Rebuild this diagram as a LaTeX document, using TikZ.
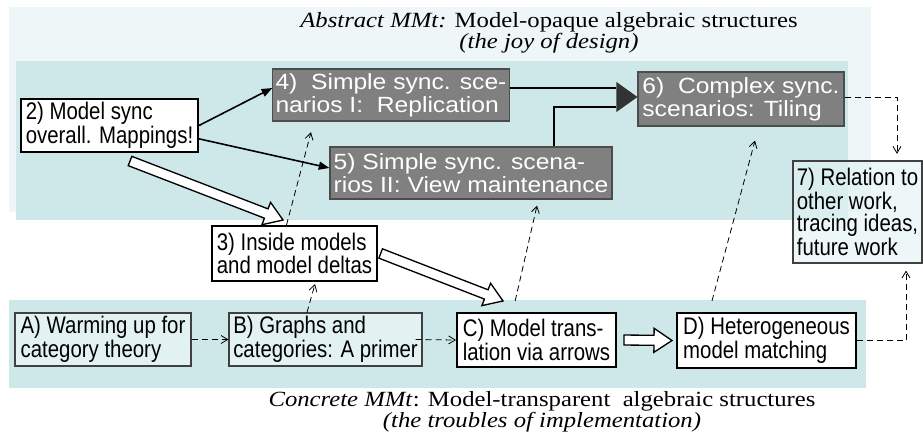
\documentclass[tikz,border=0pt]{standalone}
\usepackage{fontspec}
\setmainfont{Liberation Serif}[FakeStretch=1.14]
\newfontfamily\plainsans[FakeStretch=1.12]{Liberation Sans}
\newfontfamily\narrowsans[FakeStretch=0.85]{Liberation Sans}
\usepackage{tikz}
\usetikzlibrary{arrows.meta, positioning, calc}

\definecolor{paleteal}{RGB}{238,246,247}
\definecolor{softteal}{RGB}{206,232,234}
\definecolor{boxteal}{RGB}{226,242,243}
\definecolor{slate}{RGB}{128,128,128}
\definecolor{headgray}{RGB}{51,51,51}

% hollow block arrow between two points
\newcommand{\hollowlink}[2]{%
  \draw[hollow] let \p1=#1, \p2=#2,
    \n1={atan2(\y2-\y1,\x2-\x1)}, \n2={veclen(\x2-\x1,\y2-\y1)} in
    [shift={(\p1)}, rotate=\n1]
    (0pt,3.75pt) -- ({\n2*1pt-13.5pt},3.75pt) -- ({\n2*1pt-13.5pt},9pt)
    -- ({\n2*1pt},0pt) -- ({\n2*1pt-13.5pt},-9pt) -- ({\n2*1pt-13.5pt},-3.75pt)
    -- (0pt,-3.75pt) -- cycle;}

\begin{document}
\begin{tikzpicture}[
  x=0.75pt, y=-0.75pt,
  whitebox/.style={rectangle, draw=black, line width=1.5pt, fill=white,
                   align=left, inner xsep=2pt, inner ysep=1pt,
                   font=\narrowsans\fontsize{18}{16.5}\selectfont},
  palebox/.style={whitebox, draw=black!75, line width=0.8pt, fill=boxteal},
  greybox/.style={rectangle, draw=black!70, line width=0.8pt, fill=slate,
                  text=white, align=left, inner xsep=2pt, inner ysep=1pt,
                  font=\plainsans\fontsize{16.5}{17.25}\selectfont},
  link/.style={-{Triangle[length=8pt, width=6pt]}, line width=1.2pt},
  feed/.style={line width=1.5pt},
  hint/.style={-{Straight Barb[length=5pt, width=6pt]}, line width=0.6pt,
               dash pattern=on 4.5pt off 3pt},
  hollow/.style={draw=black, line width=1pt, fill=white, line join=miter},
  caption/.style={align=center, font=\fontsize{16.25}{15.5}\selectfont}
]
\useasboundingbox (0,0) rectangle (923,437);

% layers
\fill[paleteal] (9,7) rectangle (871,212);
\fill[softteal] (16,61) rectangle (848,220);
\fill[softteal] (9,300) rectangle (866,388);

\node[caption] (top) at (549,33)
  {\textit{Abstract MMt:} Model-opaque algebraic structures\\\textit{(the joy of design)}};
\node[caption] (bottom) at (542,412)
  {\textit{Concrete MMt}: Model-transparent\ \ algebraic structures\\\textit{(the troubles of implementation)}};

% abstract side
\node[whitebox, minimum width=132.75pt, minimum height=39.75pt] (n2) at (109.5,125.5)
  {2) Model sync\\overall. Mappings!};
\node[greybox, minimum width=174pt, minimum height=39pt] (n4) at (391,95)
  {4)\ \ Simple sync. sce-\\narios I:\ \ Replication};
\node[greybox, minimum width=211.5pt, minimum height=39pt] (n5) at (471,173)
  {5) Simple sync. scena-\\rios II: View maintenance};
\node[greybox, minimum width=154.5pt, minimum height=40.5pt] (n6) at (741,99)
  {6)\ \ Complex sync.\\scenarios: Tiling};
\node[palebox, minimum width=96.75pt, minimum height=76.5pt, fill opacity=0.6,
      text opacity=1] (n7) at (857.5,212)
  {7) Relation to\\other work,\\tracing ideas,\\future work};
\node[whitebox, minimum width=123.75pt, minimum height=41.25pt] (n3) at (294.5,253.5)
  {3) Inside models\\and model deltas};

% concrete side
\node[palebox, minimum width=132pt, minimum height=39.75pt] (nA) at (103,339.5)
  {A) Warming up for\\category theory};
\node[palebox, minimum width=144.75pt, minimum height=39.75pt] (nB) at (325.5,339.5)
  {B) Graphs and\\categories: A primer};
\node[whitebox, minimum width=119.25pt, minimum height=40.5pt] (nC) at (536.5,340)
  {C) Model trans-\\lation via arrows};
\node[whitebox, minimum width=134.25pt, minimum height=41.25pt] (nD) at (766.5,340.5)
  {D) Heterogeneous\\model matching};

% solid links
\draw[link] (n2.east) -- ([yshift=5.25pt]n4.west);
\draw[link] ([yshift=-10pt]n2.east) -- ([yshift=3.75pt]n5.west);

\coordinate (m6) at ([xshift=-15.75pt]n6.west);
\coordinate (o4) at ([yshift=5.25pt]n4.east);
\draw[feed] (o4) -- (o4 -| m6);
\draw[feed] ([xshift=62.25pt]n5.north) |- ([yshift=-6pt]m6);
\fill[headgray] ([yshift=12.75pt]m6) -- ([yshift=1.5pt]n6.west) -- ([yshift=-9.75pt]m6) -- cycle;

% block arrows
\hollowlink{([xshift=15.4pt, yshift=-6pt]n2.south)}{([xshift=-8.6pt, yshift=3.75pt]n3.north)}
\hollowlink{([xshift=2pt]n3.east)}{([xshift=-25pt, yshift=8.25pt]nC.north)}
\hollowlink{([xshift=5.25pt]nC.east)}{([xshift=-3pt]nD.west)}

% dashed hints
\draw[hint] ([xshift=-6pt]n3.north) -- ([xshift=-60pt, yshift=-8pt]n4.south);
\draw[hint] ([xshift=-13.9pt]nB.north) -- ([xshift=15.4pt, yshift=-1.5pt]n3.south);
\draw[hint] (nA.east) -- (nB.west);
\draw[hint] ([xshift=-5.25pt]nB.east) -- (nC.west);
\draw[hint] ([xshift=-16pt, yshift=8.25pt]nC.north) -- ([xshift=49.5pt, yshift=-4.5pt]n5.south);
\draw[hint] ([xshift=-40.9pt, yshift=8.25pt]nD.north) -- ([xshift=10.5pt, yshift=-10.5pt]n6.south);
\draw[hint] ([yshift=1.5pt]n6.east) -| ([xshift=29.6pt, yshift=5pt]n7.north);
\draw[hint] (nD.east) -| ([xshift=36.4pt, yshift=-5.25pt]n7.south);

\end{tikzpicture}
\end{document}
